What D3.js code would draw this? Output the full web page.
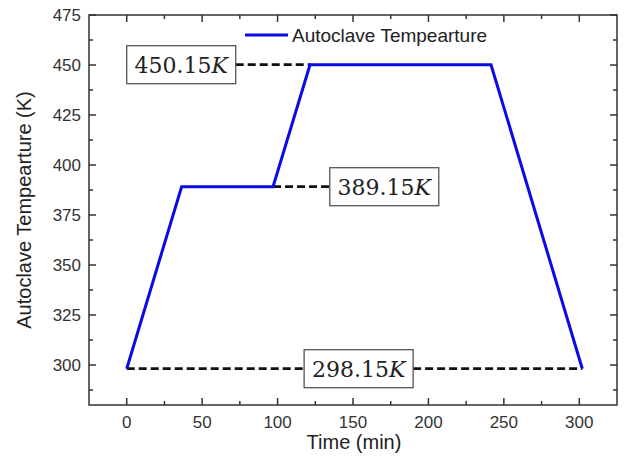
<!DOCTYPE html>
<html><head><meta charset="utf-8">
<script src="https://cdn.jsdelivr.net/npm/d3@7"></script>
<style>body{margin:0;background:#fff}</style>
</head><body>
<svg id="c" width="624" height="456"></svg>
<script>
const timeMin = [0, 36.4, 97, 121.5, 241.5, 302];
const tempK = [298.15, 389.15, 389.15, 450.15, 450.15, 298.15];
const xTicks = [0, 50, 100, 150, 200, 250, 300];
const yTicks = [300, 325, 350, 375, 400, 425, 450, 475];
const seriesName = "Autoclave Tempearture";
const refLabels = ["450.15", "389.15", "298.15"];
const refValues = [450.15, 389.15, 298.15];
const refBoxAt = [0, 134.6, 117.6];      // x (min) where each label box starts
const refDashFrom = [0, 97, 0];
const refDashTo = [121.5, 134.6, 302];

const svg = d3.select("#c");
const L = 89, R = 617, T = 15, B = 405;
const x = d3.scaleLinear().domain([-25, 325]).range([L, R]);
const y = d3.scaleLinear().domain([280, 475]).range([B, T]);
const axisColor = "#333";
const boxW = 109, boxH = 38;

// dashed reference lines (interrupted by label boxes)
refLabels.forEach((lab, i) => {
  const yy = y(refValues[i]);
  const bx = x(refBoxAt[i]);
  const x0 = x(refDashFrom[i]), x1 = x(refDashTo[i]);
  const segs = [];
  if (bx > x0 + 1) segs.push([x0, Math.min(bx, x1)]);
  if (bx + boxW < x1) segs.push([bx + boxW, x1]);
  segs.forEach(s => {
    svg.append("line").attr("x1", s[0]).attr("x2", s[1]).attr("y1", yy).attr("y2", yy)
      .attr("stroke", "#111").attr("stroke-width", 2.8).attr("stroke-dasharray", "8,4");
  });
});

// series line
const line = d3.line().x((d, i) => x(timeMin[i])).y(d => y(d));
svg.append("path").datum(tempK).attr("d", line).attr("fill", "none")
  .attr("stroke", "#0a0ae6").attr("stroke-width", 3).attr("stroke-linejoin", "miter");

// label boxes
refLabels.forEach((lab, i) => {
  const yy = y(refValues[i]);
  const bx = x(refBoxAt[i]);
  svg.append("rect").attr("x", bx).attr("y", yy - boxH / 2).attr("width", boxW).attr("height", boxH)
    .attr("fill", "#fff").attr("stroke", "#555").attr("stroke-width", 1.3);
  const t = svg.append("text").attr("x", bx + boxW / 2).attr("y", yy + 8)
    .attr("text-anchor", "middle").attr("font-family", "DejaVu Serif").attr("font-size", 22)
    .attr("fill", "#222");
  t.append("tspan").text(lab);
  t.append("tspan").attr("font-style", "italic").text("K");
});

// frame
svg.append("rect").attr("x", L).attr("y", T).attr("width", R - L).attr("height", B - T)
  .attr("fill", "none").attr("stroke", axisColor).attr("stroke-width", 1.5);

// ticks (inward), major and minor
const xMinor = d3.range(-25, 326, 25).filter(v => v % 50 !== 0 && v > -25 && v < 325);
const yMinor = d3.range(287.5, 475, 25);
const g = svg.append("g").attr("stroke", axisColor).attr("stroke-width", 1.5);
xTicks.forEach(v => {
  g.append("line").attr("x1", x(v)).attr("x2", x(v)).attr("y1", B).attr("y2", B - 7);
  g.append("line").attr("x1", x(v)).attr("x2", x(v)).attr("y1", T).attr("y2", T + 7);
});
xMinor.forEach(v => {
  g.append("line").attr("x1", x(v)).attr("x2", x(v)).attr("y1", B).attr("y2", B - 4);
  g.append("line").attr("x1", x(v)).attr("x2", x(v)).attr("y1", T).attr("y2", T + 4);
});
yTicks.forEach(v => {
  g.append("line").attr("x1", L).attr("x2", L + 7).attr("y1", y(v)).attr("y2", y(v));
  g.append("line").attr("x1", R).attr("x2", R - 7).attr("y1", y(v)).attr("y2", y(v));
});
yMinor.forEach(v => {
  g.append("line").attr("x1", L).attr("x2", L + 4).attr("y1", y(v)).attr("y2", y(v));
  g.append("line").attr("x1", R).attr("x2", R - 4).attr("y1", y(v)).attr("y2", y(v));
});

// tick labels
const font = "Liberation Sans, Arial, sans-serif";
svg.append("g").selectAll("text").data(xTicks).join("text")
  .attr("x", d => x(d)).attr("y", B + 23).attr("text-anchor", "middle")
  .attr("font-family", font).attr("font-size", 17).attr("fill", "#333").text(d => d);
svg.append("g").selectAll("text").data(yTicks).join("text")
  .attr("x", 81).attr("y", d => y(d) + 6).attr("text-anchor", "end")
  .attr("font-family", font).attr("font-size", 17).attr("fill", "#333").text(d => d);

// axis titles
svg.append("text").attr("x", 354).attr("y", 449).attr("text-anchor", "middle")
  .attr("font-family", font).attr("font-size", 20).attr("fill", "#222").text("Time (min)");
svg.append("text").attr("transform", `translate(31,${(T + B) / 2}) rotate(-90)`)
  .attr("text-anchor", "middle").attr("font-family", font).attr("font-size", 20)
  .attr("fill", "#222").text("Autoclave Tempearture (K)");

// legend
svg.append("line").attr("x1", 245).attr("x2", 288).attr("y1", 35).attr("y2", 35)
  .attr("stroke", "#0a0ae6").attr("stroke-width", 3);
svg.append("text").attr("x", 292).attr("y", 41.5).attr("font-family", font).attr("font-size", 19)
  .attr("fill", "#222").text(seriesName);
</script>
</body></html>
